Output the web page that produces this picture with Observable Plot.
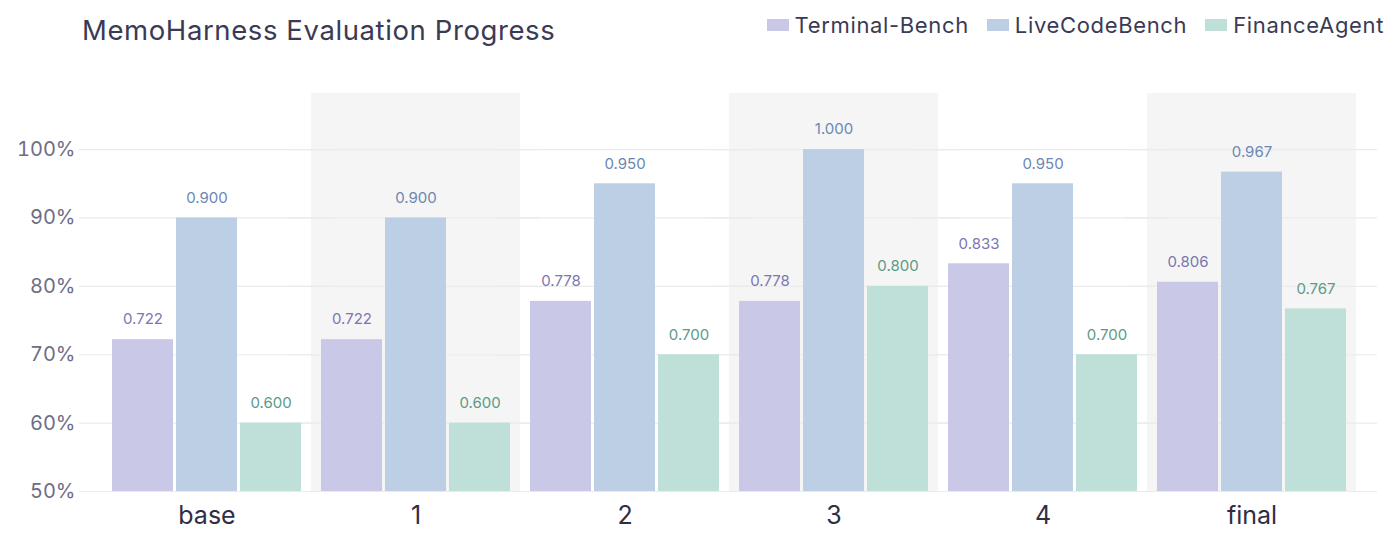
<!DOCTYPE html>
<html>
<head>
<meta charset="utf-8">
<script src="https://cdn.jsdelivr.net/npm/d3@7"></script>
<script src="https://cdn.jsdelivr.net/npm/@observablehq/plot@0.6"></script>
<style>
  html, body { margin: 0; padding: 0; background: #fff; }
  body { width: 1400px; height: 548px; overflow: hidden; font-family: "Inter", "Noto Sans", sans-serif; }
  #header { position: relative; height: 60px; }
  #title { position: absolute; left: 82px; top: 14px; font-size: 27.5px; letter-spacing: 0.6px; color: #3b3a55; line-height: 1.2; }
  #legend { position: absolute; right: 16px; top: 12px; display: flex; align-items: center; gap: 18px; font-size: 22px; letter-spacing: 0.65px; color: #3b3a55; line-height: 1.2; }
  .item { display: flex; align-items: center; gap: 6px; }
  .sw { width: 22px; height: 12px; display: inline-block; }
</style>
</head>
<body>
<div id="header">
  <div id="title">MemoHarness Evaluation Progress</div>
  <div id="legend"></div>
</div>
<div id="chart"></div>
<script>
const categories = ["base", "1", "2", "3", "4", "final"];
const series = ["Terminal-Bench", "LiveCodeBench", "FinanceAgent"];
const terminalBench = [0.722, 0.722, 0.778, 0.778, 0.833, 0.806];
const liveCodeBench = [0.900, 0.900, 0.950, 1.000, 0.950, 0.967];
const financeAgent = [0.600, 0.600, 0.700, 0.800, 0.700, 0.767];
const shadedCategories = ["1", "3", "final"];
const yTicks = [0.5, 0.6, 0.7, 0.8, 0.9, 1.0];
const barColors = ["#c9c8e6", "#bdcfe5", "#bfe0d9"];
const labelColors = ["#7b76b2", "#6b87b2", "#5c9a88"];

const values = [terminalBench, liveCodeBench, financeAgent];
const rows = [];
categories.forEach((c, i) => series.forEach((s, j) => rows.push({cat: c, series: s, value: values[j][i]})));
const barColor = Object.fromEntries(series.map((s, j) => [s, barColors[j]]));
const labelColor = Object.fromEntries(series.map((s, j) => [s, labelColors[j]]));

// legend
const legend = document.getElementById("legend");
series.forEach((s, j) => {
  const it = document.createElement("div");
  it.className = "item";
  it.innerHTML = `<span class="sw" style="background:${barColors[j]}"></span><span>${s}</span>`;
  legend.appendChild(it);
});

const chart = Plot.plot({
  width: 1400,
  height: 488,
  marginTop: 33,
  marginBottom: 57,
  marginLeft: 101,
  marginRight: 43,
  style: {fontFamily: "Inter, 'Noto Sans', sans-serif", background: "#fff"},
  fx: {domain: categories, paddingInner: 0, paddingOuter: 0, axis: null},
  x: {domain: series, paddingInner: 0.046, paddingOuter: 0.133, axis: null},
  y: {domain: [0.5, 1.082], axis: null},
  marks: [
    Plot.rect(shadedCategories, {fx: d => d, fill: "#f5f5f5"}),
    Plot.ruleY(yTicks, {stroke: "#ebebeb", strokeWidth: 1.2, insetLeft: -23, insetRight: -21}),
    Plot.axisY({ticks: yTicks, tickFormat: d3.format(".0%"), tickSize: 0, tickPadding: 27, fontSize: 20, fill: "#6e6d85", label: null}),
    Plot.axisFx({anchor: "bottom", tickSize: 0, tickPadding: 15, fontSize: 25, fill: "#2f2e47", label: null}),
    Plot.barY(rows, {fx: "cat", x: "series", y1: 0.5, y2: "value", fill: d => barColor[d.series]}),
    Plot.text(rows, {fx: "cat", x: "series", y: "value", text: d => d.value.toFixed(3), dy: -20, fontSize: 15, fill: d => labelColor[d.series]})
  ]
});
document.getElementById("chart").appendChild(chart);
</script>
</body>
</html>
